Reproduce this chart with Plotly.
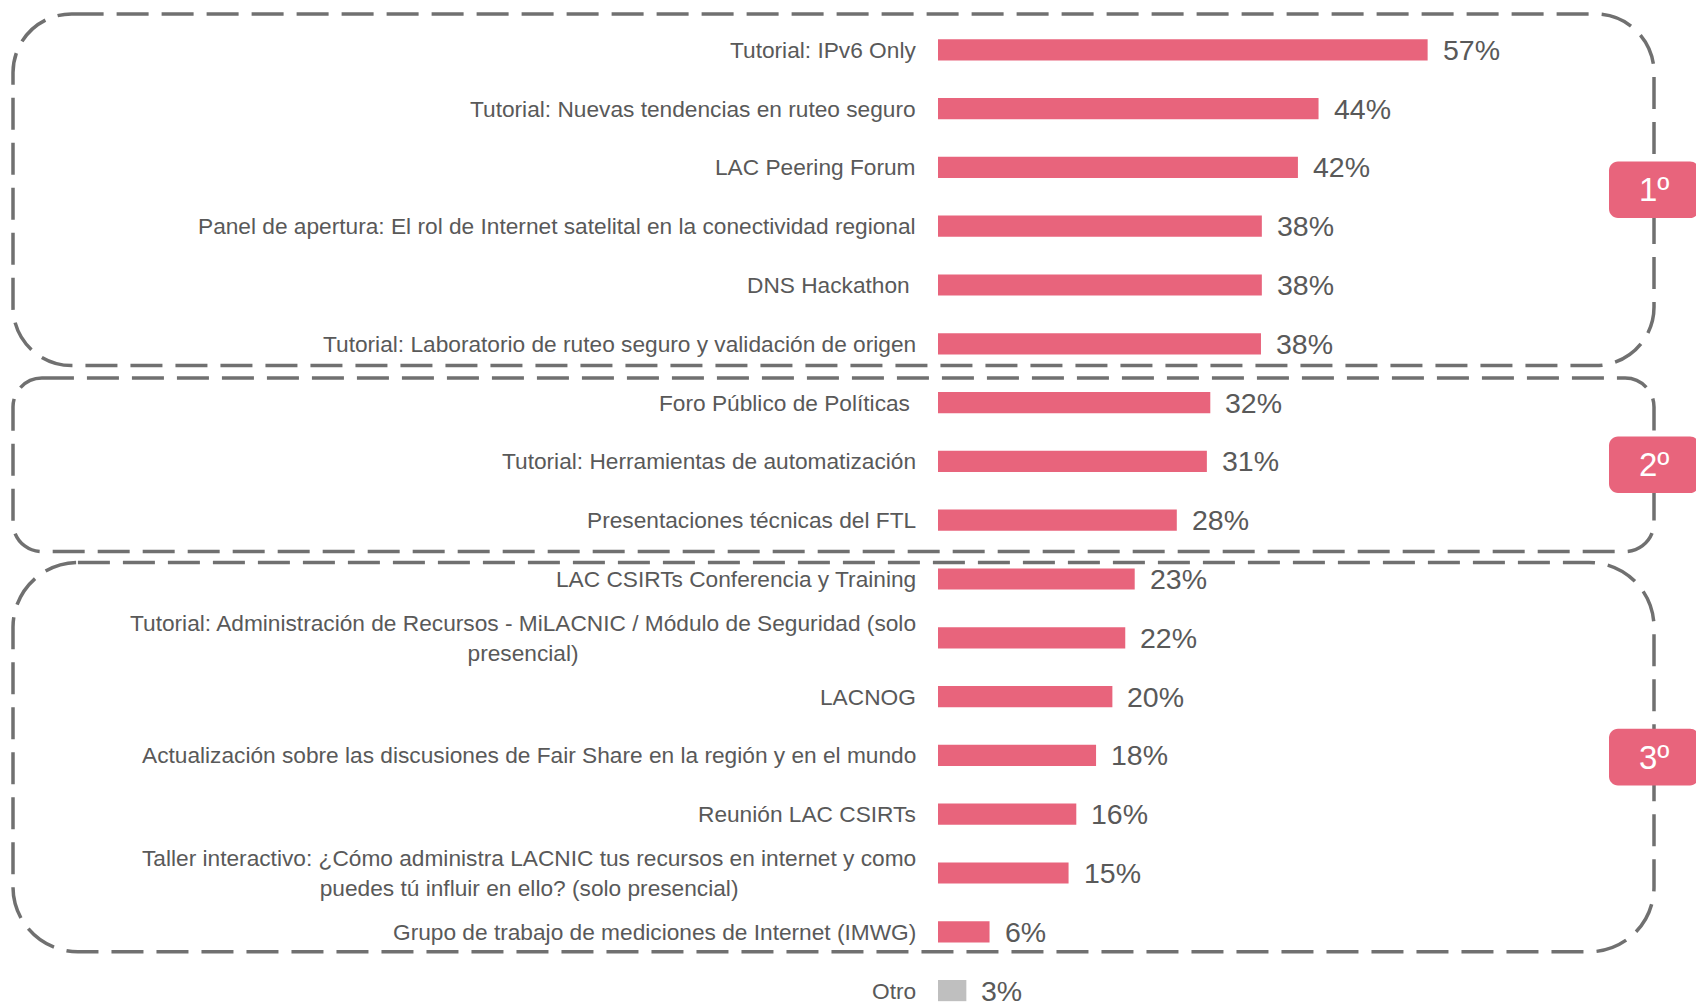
import plotly.graph_objects as go

# ---------------- data ----------------
categories = [
    "Tutorial: IPv6 Only",
    "Tutorial: Nuevas tendencias en ruteo seguro",
    "LAC Peering Forum",
    "Panel de apertura: El rol de Internet satelital en la conectividad regional",
    "DNS Hackathon\u00a0",
    "Tutorial: Laboratorio de ruteo seguro y validación de origen",
    "Foro Público de Políticas\u00a0",
    "Tutorial: Herramientas de automatización",
    "Presentaciones técnicas del FTL",
    "LAC CSIRTs Conferencia y Training",
    "Tutorial: Administración de Recursos - MiLACNIC / Módulo de Seguridad (solo<br>presencial)",
    "LACNOG",
    "Actualización sobre las discusiones de Fair Share en la región y en el mundo",
    "Reunión LAC CSIRTs",
    "Taller interactivo: ¿Cómo administra LACNIC tus recursos en internet y como<br>puedes tú influir en ello? (solo presencial)",
    "Grupo de trabajo de mediciones de Internet (IMWG)",
    "Otro",
]
values = [57.0, 44.3, 41.9, 37.7, 37.7, 37.6, 31.7, 31.3, 27.8, 22.9, 21.8, 20.3, 18.4, 16.1, 15.2, 6.0, 3.3]
value_labels = [f"{round(v)}%" for v in values]
group_labels = ["1º", "2º", "3º"]
group_first = [0, 6, 9]
group_last = [5, 8, 15]

# ---------------- style / layout constants ----------------
W, H = 1696, 1002
PINK = "#E8647C"
GREY_BAR = "#BFBFBF"
TEXT = "#595959"
LINE = "#707070"
ROW_PX = 58.8
ROW0_PX = 49.8
BAR_X0_PX = 938
PX_PER_PCT = 8.59
LABEL_RIGHT_PX = 918
BOX_LEFT_PX, BOX_RIGHT_PX = 13, 1654
group_pad_top = [0.609, 0.418, 0.282]
group_pad_bot = [0.371, 0.534, 0.340]
FONT = "Liberation Sans, Arial, sans-serif"

n = len(categories)
ypos = list(range(n))
colors = [PINK] * (n - 1) + [GREY_BAR]

fig = go.Figure()
fig.add_trace(go.Bar(
    x=values, y=ypos, orientation="h",
    marker=dict(color=colors, line=dict(width=0)),
    width=0.36, hoverinfo="skip", showlegend=False,
))

y_top = -ROW0_PX / ROW_PX
y_bot = (H - ROW0_PX) / ROW_PX
x_max = (W - BAR_X0_PX) / PX_PER_PCT

fig.update_layout(
    width=W, height=H,
    margin=dict(l=0, r=0, t=0, b=0, pad=0),
    paper_bgcolor="white", plot_bgcolor="white",
    xaxis=dict(domain=[BAR_X0_PX / W, 1], range=[0, x_max], visible=False, fixedrange=True),
    yaxis=dict(range=[y_bot, y_top], visible=False, fixedrange=True),
    font=dict(family=FONT, color=TEXT),
)

annotations = []
for i, (c, v, t) in enumerate(zip(categories, values, value_labels)):
    annotations.append(dict(
        x=LABEL_RIGHT_PX / W, xref="paper", y=i, yref="y",
        text=c, showarrow=False, xanchor="right", yanchor="middle", align="center",
        font=dict(size=22.7, color=TEXT, family=FONT),
    ))
    annotations.append(dict(
        x=v, xref="x", y=i, yref="y", xshift=13,
        text=t, showarrow=False, xanchor="left", yanchor="middle",
        font=dict(size=28.5, color=TEXT, family=FONT),
    ))


def rounded_path(x0, x1, y0, y1, rx, ry):
    k = 0.5523
    return (
        f"M {x0+rx},{y0} L {x1-rx},{y0} "
        f"C {x1-rx+k*rx},{y0} {x1},{y0+ry-k*ry} {x1},{y0+ry} "
        f"L {x1},{y1-ry} "
        f"C {x1},{y1-ry+k*ry} {x1-rx+k*rx},{y1} {x1-rx},{y1} "
        f"L {x0+rx},{y1} "
        f"C {x0+rx-k*rx},{y1} {x0},{y1-ry+k*ry} {x0},{y1-ry} "
        f"L {x0},{y0+ry} "
        f"C {x0},{y0+ry-k*ry} {x0+rx-k*rx},{y0} {x0+rx},{y0} Z"
    )


shapes = []
for lbl, a, b, pt, pb in zip(group_labels, group_first, group_last, group_pad_top, group_pad_bot):
    y0 = a - pt
    y1 = b + pb
    h_px = (y1 - y0) * ROW_PX
    r_px = h_px / 6
    shapes.append(dict(
        type="path", xref="paper", yref="y",
        path=rounded_path(BOX_LEFT_PX / W, BOX_RIGHT_PX / W, y0, y1, r_px / W, r_px / ROW_PX),
        line=dict(color=LINE, width=3.5, dash="32px,13px"),
        fillcolor="rgba(0,0,0,0)", layer="below",
    ))
    # badge
    yc = (y0 + y1) / 2
    bw, bh, br = 90, 56.6, 9
    bx0 = (BOX_RIGHT_PX - bw / 2) / W
    bx1 = (BOX_RIGHT_PX + bw / 2) / W
    by0 = yc - bh / 2 / ROW_PX
    by1 = yc + bh / 2 / ROW_PX
    shapes.append(dict(
        type="path", xref="paper", yref="y",
        path=rounded_path(bx0, bx1, by0, by1, br / W, br / ROW_PX),
        line=dict(width=0), fillcolor=PINK, layer="above",
    ))
    annotations.append(dict(
        x=BOX_RIGHT_PX / W, xref="paper", y=yc, yref="y",
        text=lbl, showarrow=False, xanchor="center", yanchor="middle",
        font=dict(size=33, color="white", family=FONT),
    ))

fig.update_layout(shapes=shapes, annotations=annotations)
fig.write_html(
    "out.html",
    config={"displayModeBar": False},
    post_script="document.body.style.margin='0';document.body.style.overflow='hidden';",
)
